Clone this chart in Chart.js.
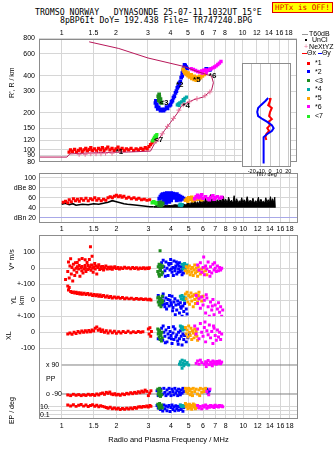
<!DOCTYPE html>
<html>
<head>
<meta charset="utf-8">
<script src="https://cdn.jsdelivr.net/npm/chart.js@4.4.1/dist/chart.umd.min.js"></script>
<style>
  body { margin: 0; width: 335px; height: 451px; position: relative; overflow: hidden; background: #fff; }
  canvas { position: absolute; }
  .txt { position: absolute; white-space: pre; line-height: 1; color: #000; }
  .mono { font-family: 'DejaVu Sans Mono', monospace; font-size: 8.2px; }
  .lr { position: absolute; left: 302px; height: 8px; line-height: 8px; font: 7px 'Liberation Sans', sans-serif; white-space: pre; }
  .ln { display: inline-block; width: 6px; height: 1px; vertical-align: middle; }
  .sq { display: inline-block; width: 3px; height: 3px; margin: 0 5px 0 5px; vertical-align: middle; }
  #hptx { position: absolute; left: 272px; top: 2px; width: 59px; height: 9px; background: #ffff00; border: 1px solid #e00000;
          color: #e00000; font: 7.6px 'DejaVu Sans Mono', monospace; line-height: 9px; text-align: center; }
  #xlm100 { position: absolute; left: 11px; top: 344.3px; width: 24px; height: 8px; line-height: 8px; text-align: right;
            font: 7px 'Liberation Sans', sans-serif; color: #000; }
</style>
</head>
<body>
<div class="txt mono" style="left:35px;top:7.5px">TROMSO NORWAY   DYNASONDE 25-07-11 1032UT 15°E</div>
<div class="txt mono" style="left:60px;top:16px">8pBP6It DoY= 192.438 File= TR747240.BPG</div>
<div id="hptx">HPTx is OFF!</div>

<canvas id="main" width="302" height="170" style="left:0;top:0"></canvas>
<canvas id="dbe" width="302" height="72" style="left:0;top:165px"></canvas>
<canvas id="low" width="302" height="221" style="left:0;top:230px"></canvas>
<canvas id="tilt" width="68" height="118" style="left:228px;top:60px"></canvas>
<div id="xlm100">-100</div>

<div class="lr" style="top:30px"><i class="ln" style="background:#999;margin-right:1px"></i>T60dB</div>
<div class="lr" style="top:36px"><i class="ln" style="width:2px;height:2px;background:#000;margin:0 5px 0 3px"></i>UnCl</div>
<div class="lr" style="top:42.7px"><span style="color:#e8749a;margin:0 1px 0 2px">+</span>NeXtYZ</div>
<div class="lr" style="top:49.3px"><i class="ln" style="background:#ff0000;width:5px"></i>Θx <i class="ln" style="background:#0000ff;width:4px"></i>Θy</div>
<div class="lr" style="top:59.3px"><i class="sq" style="background:#ff0000"></i>*1</div>
<div class="lr" style="top:67.7px"><i class="sq" style="background:#0000ff"></i>*2</div>
<div class="lr" style="top:76.7px"><i class="sq" style="background:#1e8c1e"></i>&lt;3</div>
<div class="lr" style="top:85.3px"><i class="sq" style="background:#00a8a8"></i>*4</div>
<div class="lr" style="top:94.3px"><i class="sq" style="background:#ffa500"></i>*5</div>
<div class="lr" style="top:102.7px"><i class="sq" style="background:#ff00ff"></i>*6</div>
<div class="lr" style="top:112px"><i class="sq" style="background:#22ee22"></i>&lt;7</div>

<script>
// axes
const freqTicks = [1, 1.5, 2, 3, 4, 5, 6, 7, 8, 9, 10, 12, 14, 16, 18];
const heightTicks = [800, 600, 400, 300, 200, 150, 120, 100, 90, 80];
const dbTicks = [100, 80, 60, 40, 20];
const tiltTicks = [-20, -10, 0, 10, 20];

// ionogram: [MHz, km]
const profile = [[0.75,87.4],[1.07,87.4],[1.11,92.7],[1.6,95],[2.34,96],[3.1,97.7],[3.24,110],[3.48,125],[3.71,144],[3.99,166],[4.36,198],[4.58,225],[4.82,237],[5.38,255],[6.1,269],[6.74,304],[6.9,350],[6.74,397],[5.59,433],[4.76,474],[3.0,556],[2.07,664],[1.42,752]];
const nextYZ = [[1.25,92],[1.35,92],[1.45,93],[1.55,93],[1.65,93],[1.75,94],[1.9,94],[3.35,118],[3.6,135],[3.85,155],[4.15,180],[4.45,210],[4.7,232],[5.1,246],[5.6,260],[6.2,275],[6.6,295]];
const hRed = [[1.1,96],[1.12,100],[1.15,97],[1.18,101],[1.21,96],[1.24,99],[1.27,102],[1.3,97],[1.33,100],[1.36,103],[1.39,98],[1.42,101],[1.45,104],[1.48,99],[1.52,102],[1.56,98],[1.6,103],[1.64,100],[1.68,104],[1.72,99],[1.76,102],[1.8,105],[1.85,100],[1.9,103],[1.95,99],[2.0,102],[2.05,105],[2.1,100],[2.16,103],[2.22,99],[2.28,102],[2.35,100],[2.42,103],[2.5,99],[2.58,102],[2.66,100],[2.74,103],[2.82,101],[2.9,104],[2.97,102],[3.04,106],[3.1,110],[3.16,114],[3.22,118],[3.28,122],[3.34,126]];
const hBlue = [[3.32,250],[3.30,240],[3.36,233],[3.34,225],[3.44,221],[3.40,215],[3.57,213],[3.52,208],[3.71,213],[3.66,208],[3.85,217],[3.80,222],[4.0,233],[3.95,228],[4.1,250],[4.05,245],[4.2,273],[4.15,265],[4.31,299],[4.26,290],[4.41,327],[4.36,318],[4.53,357],[4.47,348],[4.64,397],[4.58,385],[4.70,434],[4.65,420],[4.76,466],[4.72,450],[4.82,483],[4.78,490],[4.94,457],[4.88,470],[4.88,418],[6.3,455],[6.5,450],[6.6,445]];
const hGreen = [[3.42,272],[3.45,262],[3.48,255],[3.5,248],[3.44,252],[3.53,243],[3.56,240],[3.47,268],[3.52,258],[3.46,282]];
const hTeal = [[4.36,232],[4.42,236],[4.5,240],[4.46,230],[4.6,245],[4.7,255],[4.8,262],[4.9,268],[4.75,250]];
const hOrange = [[4.7,450],[4.75,435],[4.8,420],[4.9,410],[5.0,400],[5.1,390],[5.25,380],[5.4,372],[5.55,368],[5.7,375],[5.85,385],[6.0,398],[6.15,410],[5.0,420],[5.2,405],[5.4,395],[5.6,388],[5.8,395],[4.85,430]];
const hMagenta = [[5.2,455],[5.35,448],[5.5,440],[5.65,432],[5.8,428],[5.95,436],[6.1,442],[6.25,445],[6.4,440],[6.55,447],[6.7,455],[6.85,462],[7.0,470],[7.15,480],[7.3,492],[7.45,505],[7.6,520],[6.0,420],[6.3,425]];
const hLime = [[3.18,118],[3.22,122],[3.26,126],[3.3,130],[3.34,127],[3.28,120],[3.36,133]];
const tagText = ['*1', '*2', '<3', '*4', '*5', '*6', '<7'];
const tagFreq = [2.09, 4.5, 3.68, 4.88, 5.59, 6.83, 3.44];
const tagHeight = [97, 334, 243, 229, 368, 402, 121];

// tilt inset: [deg, km]
const tiltRed = [[1,278],[0,264],[-2,245],[2,233],[0,217],[-1,202],[2,191],[-2,182],[0,172],[-3,163],[-1,155],[-4,147],[-5,139],[-4,132]];
const tiltBlue = [[-2,278],[-5,264],[-10,245],[-13,233],[-14,217],[-13,202],[-8,191],[-3,182],[2,172],[4,163],[2,155],[-3,147],[-7,139],[-7,121],[-7,101],[-7,87]];

// amplitude: [MHz, dB]
const dbRed = [[1.02,51],[1.05,53],[1.08,50],[1.1,56],[1.13,52],[1.16,58],[1.19,54],[1.22,57],[1.25,53],[1.28,58],[1.32,55],[1.36,59],[1.4,54],[1.44,58],[1.48,56],[1.52,60],[1.56,55],[1.6,58],[1.65,54],[1.7,57],[1.75,55],[1.8,60],[1.85,62],[1.9,60],[1.95,63],[2.0,65],[2.05,62],[2.1,64],[2.15,61],[2.2,63],[2.27,59],[2.34,61],[2.42,58],[2.5,60],[2.58,57],[2.66,59],[2.75,56],[2.85,57],[2.95,55],[3.05,56]];
const dbNoiseLow = [[1.0,47],[1.05,49],[1.1,46],[1.15,48],[1.2,45],[1.3,47],[1.4,46],[1.5,48],[1.6,47],[1.7,49],[1.8,51],[1.9,54],[2.0,52],[2.1,50],[2.2,48],[2.3,47],[2.45,46],[2.6,45],[2.75,44],[2.9,43],[3.05,42],[3.2,42]];
const dbNoiseHigh = [[3.2,42],[3.4,44],[3.6,43],[3.8,45],[4.0,44],[4.2,46],[4.4,45],[4.6,48],[4.8,46],[5.0,50],[5.1,46],[5.2,53],[5.3,47],[5.4,55],[5.5,48],[5.6,52],[5.7,47],[5.8,58],[5.9,48],[6.0,54],[6.1,49],[6.2,60],[6.3,48],[6.4,55],[6.5,50],[6.6,66],[6.7,49],[6.8,58],[6.9,50],[7.0,62],[7.1,49],[7.2,56],[7.35,51],[7.5,60],[7.6,49],[7.75,63],[7.9,50],[8.0,57],[8.15,49],[8.3,61],[8.45,51],[8.6,55],[8.75,49],[8.9,64],[9.05,50],[9.2,58],[9.35,49],[9.5,54],[9.65,51],[9.8,60],[9.95,49],[10.1,56],[10.3,50],[10.5,62],[10.7,49],[10.9,55],[11.1,51],[11.3,59],[11.5,49],[11.7,54],[11.9,50],[12.1,61],[12.3,49],[12.5,57],[12.7,51],[12.9,53],[13.1,49],[13.3,60],[13.5,50],[13.7,56],[13.9,49],[14.1,62],[14.3,51],[14.5,58],[14.7,50],[14.9,61],[15.0,40]];
const dbLime = [[3.15,50],[3.2,52],[3.25,51],[3.3,49]];
const dbGreen = [[3.35,47],[3.4,50],[3.45,48],[3.5,51],[3.55,46],[3.6,49],[3.42,45],[3.52,44]];
const dbBlue = [[3.45,58],[3.5,62],[3.55,65],[3.6,67],[3.7,68],[3.8,69],[3.9,68],[4.0,69],[4.1,68],[4.2,66],[4.3,67],[4.4,64],[4.5,62],[4.6,60],[4.7,58],[3.6,60],[3.75,62],[3.9,63],[4.05,62],[4.2,60],[4.35,58],[3.7,56],[4.0,57],[4.3,55],[3.85,59],[4.15,64],[4.5,56],[3.5,48],[3.6,50],[3.65,53],[3.75,50],[3.8,54],[3.9,52],[4.0,55]];
const dbTeal = [[4.45,45],[4.5,47],[4.55,44],[4.6,46]];
const dbOrange = [[4.8,55],[4.9,58],[5.0,60],[5.1,57],[5.2,61],[5.3,58],[5.4,56],[5.5,60],[5.6,57],[5.75,59],[5.9,56],[4.95,53],[5.25,54]];
const dbMagenta = [[5.4,58],[5.5,62],[5.6,65],[5.7,60],[5.8,63],[6.0,59],[6.2,62],[6.4,58],[6.6,61],[6.8,64],[7.0,60],[7.2,62],[7.4,59],[7.6,61],[6.5,56],[6.9,57],[5.9,66]];

// V* m/s
const vRed = [[1.05,-70],[1.08,-20],[1.09,40],[1.1,-60],[1.11,15],[1.12,60],[1.13,-35],[1.14,5],[1.15,-80],[1.16,25],[1.17,-10],[1.18,-45],[1.19,35],[1.2,0],[1.21,-25],[1.22,10],[1.24,-5],[1.26,-50],[1.28,5],[1.29,-15],[1.31,-30],[1.33,-5],[1.35,0],[1.36,-20],[1.39,-8],[1.4,18],[1.41,-3],[1.42,55],[1.43,8],[1.44,135],[1.45,-12],[1.46,20],[1.47,75],[1.48,2],[1.49,-25],[1.5,10],[1.52,30],[1.53,-5],[1.55,15],[1.56,-35],[1.58,5],[1.6,22],[1.62,-8],[1.64,10],[1.66,-2],[1.68,12],[1.7,-10],[1.72,4],[1.75,15],[1.78,-5],[1.81,6],[1.84,-3],[1.87,8],[1.9,-6],[1.93,3],[1.96,9],[2.0,-2],[2.04,5],[2.08,-4],[2.12,3],[2.17,-2],[2.22,6],[2.28,0],[2.34,4],[2.4,-3],[2.46,5],[2.52,-1],[2.58,3],[2.64,-4],[2.7,2],[2.76,-2],[2.82,4],[2.88,-3],[2.94,2],[3.0,-2],[3.04,3],[1.296,61],[1.346,54],[1.379,36],[1.346,18],[1.296,11],[1.248,18],[1.218,36],[1.248,54]];
const vGreen = [[3.38,-20],[3.4,10],[3.42,-35],[3.44,25],[3.45,-50],[3.47,0],[3.48,110],[3.5,-15],[3.52,20],[3.54,-40],[3.56,5],[3.58,-25],[3.6,15]];
const vBlue = [[3.45,20],[3.5,-5],[3.55,35],[3.6,-30],[3.65,10],[3.7,-15],[3.75,40],[3.8,0],[3.85,-45],[3.9,20],[3.95,-10],[4.0,30],[4.05,-25],[4.1,5],[4.15,45],[4.2,-15],[4.25,15],[4.3,-35],[4.35,25],[4.4,-5],[4.45,35],[4.5,-20],[4.55,10],[4.6,-40],[4.65,0],[4.7,20],[3.62,50],[3.72,-50],[3.88,30],[4.02,-5],[4.12,-45],[4.28,40],[4.42,15],[4.58,-10],[3.58,10],[3.98,55],[4.22,0],[4.38,-25],[4.68,-30],[4.75,10]];
const vTeal = [[4.6,25],[4.65,-5],[4.7,15],[4.75,30],[4.8,-10],[4.85,5],[4.9,20],[4.95,-20]];
const vOrange = [[4.8,-15],[4.85,10],[4.9,-30],[4.95,0],[5.0,-20],[5.05,15],[5.1,-40],[5.15,-5],[5.2,-25],[5.25,5],[5.3,-45],[5.35,-10],[5.4,20],[5.45,-30],[5.5,0],[5.55,-20],[5.6,-50],[5.65,10],[5.7,-15],[5.8,-35],[5.9,-5],[6.0,-25],[6.1,5],[6.2,-15],[6.3,-40]];
const vMagenta = [[5.6,20],[5.7,-10],[5.8,35],[5.9,-25],[6.0,5],[6.1,-40],[6.2,15],[6.3,-5],[6.4,40],[6.5,-20],[6.6,10],[6.7,-30],[6.8,25],[6.9,-10],[7.0,0],[7.1,-20],[7.2,15],[7.3,-15],[7.4,5],[7.5,-10],[7.6,0],[6.05,70],[6.55,-50],[6.95,35]];

// YL km
const ylRed = [[1.08,90],[1.09,65],[1.1,80],[1.12,55],[1.14,48],[1.16,52],[1.18,45],[1.2,50],[1.22,42],[1.24,47],[1.26,40],[1.28,46],[1.3,38],[1.33,44],[1.36,36],[1.39,42],[1.42,34],[1.45,40],[1.48,30],[1.51,37],[1.54,28],[1.57,35],[1.6,25],[1.63,33],[1.66,24],[1.7,30],[1.74,20],[1.78,27],[1.82,18],[1.86,24],[1.9,15],[1.95,21],[2.0,14],[2.05,19],[2.1,12],[2.16,17],[2.22,10],[2.28,15],[2.35,9],[2.42,13],[2.5,7],[2.58,11],[2.66,6],[2.74,10],[2.82,5],[2.9,8],[2.98,4],[3.05,7],[3.1,2]];
const ylGreen = [[3.38,15],[3.4,-10],[3.42,20],[3.44,-30],[3.46,5],[3.48,-20],[3.5,10],[3.52,-40],[3.54,0],[3.56,-15],[3.58,25],[3.6,-5]];
const ylBlue = [[3.4,30],[3.45,-10],[3.5,10],[3.55,-30],[3.6,20],[3.65,-5],[3.7,-40],[3.75,15],[3.8,-20],[3.85,5],[3.9,-35],[3.95,0],[4.0,-15],[4.05,25],[4.1,-45],[4.15,-10],[4.2,10],[4.25,-30],[4.3,-60],[4.35,-5],[4.4,-25],[4.45,-80],[4.5,-15],[4.55,-50],[4.6,-100],[4.65,-35],[4.7,-70],[4.75,-20],[4.8,-110],[4.85,-55],[4.9,-85],[3.62,40],[3.78,-55],[3.92,30],[4.08,-65],[4.22,-90],[4.38,-120],[4.52,-40],[4.02,-30],[3.68,-25]];
const ylTeal = [[4.5,25],[4.55,10],[4.6,30],[4.65,5],[4.7,20],[4.75,0],[4.8,15]];
const ylOrange = [[4.8,40],[4.85,10],[4.9,50],[4.95,-10],[5.0,30],[5.05,-25],[5.1,20],[5.15,45],[5.2,-5],[5.25,25],[5.3,-40],[5.35,35],[5.4,5],[5.45,-20],[5.5,40],[5.55,15],[5.6,-10],[5.65,30],[5.7,50],[5.8,20],[5.9,-5],[6.0,25]];
const ylMagenta = [[5.5,30],[5.6,-20],[5.7,10],[5.8,-50],[5.9,20],[6.0,-30],[6.1,0],[6.2,-80],[6.3,15],[6.4,-40],[6.5,-100],[6.6,-10],[6.7,-60],[6.8,5],[6.9,-90],[7.0,-30],[7.1,-120],[7.2,-55],[7.3,-15],[7.4,-75],[7.5,-40],[7.6,-100],[7.7,-60],[6.25,35],[6.75,-35]];

// XL km
const xlRed = [[1.08,-10],[1.11,-5],[1.14,-12],[1.17,0],[1.2,-8],[1.23,5],[1.26,-3],[1.29,8],[1.32,0],[1.35,10],[1.38,2],[1.41,12],[1.44,4],[1.47,15],[1.5,8],[1.53,25],[1.56,33],[1.59,12],[1.62,20],[1.65,5],[1.68,15],[1.72,0],[1.76,10],[1.8,-5],[1.85,8],[1.9,-3],[1.95,6],[2.0,-6],[2.06,4],[2.12,-4],[2.18,5],[2.25,-2],[2.32,6],[2.4,-3],[2.48,4],[2.56,-2],[2.64,5],[2.72,0],[2.8,3],[3.0,20],[3.03,-10],[3.06,28],[3.09,-25],[3.12,5]];
const xlGreen = [[3.38,20],[3.4,-10],[3.42,5],[3.44,-30],[3.46,15],[3.48,-45],[3.5,-5],[3.52,-20],[3.54,-55],[3.56,0],[3.58,-35]];
const xlBlue = [[3.4,-40],[3.45,10],[3.5,-20],[3.55,25],[3.6,-50],[3.65,0],[3.7,-25],[3.75,15],[3.8,-60],[3.85,-10],[3.9,-35],[3.95,5],[4.0,-20],[4.05,-70],[4.1,-5],[4.15,-45],[4.2,20],[4.25,-30],[4.3,-15],[4.35,-55],[4.4,0],[4.45,-40],[4.5,10],[4.55,-25],[4.6,-80],[4.65,-10],[4.7,-45],[4.75,-20],[4.85,-60],[4.95,-35],[5.05,-15],[3.62,40],[3.88,30],[4.12,35],[4.38,-75],[3.72,-65],[4.02,-40]];
const xlTeal = [[4.5,40],[4.55,25],[4.6,35],[4.65,15],[4.7,30],[4.75,20]];
const xlOrange = [[4.8,30],[4.85,-10],[4.9,15],[4.95,-30],[5.0,40],[5.05,0],[5.1,-20],[5.15,25],[5.2,-45],[5.25,10],[5.3,-5],[5.35,-35],[5.4,20],[5.45,-15],[5.5,5],[5.55,-25],[5.6,-50]];
const xlMagenta = [[5.4,40],[5.5,-10],[5.6,20],[5.7,-40],[5.8,55],[5.9,0],[6.0,-25],[6.1,30],[6.2,-60],[6.3,10],[6.4,-15],[6.5,45],[6.6,-35],[6.7,5],[6.8,-70],[6.9,25],[7.0,-20],[7.1,-50],[7.2,15],[7.3,-30],[7.4,0],[7.5,-45],[7.6,-10],[6.15,64],[6.85,40]];

// polarization deg (x mode +90, o mode -90)
const polRed = [[1.08,-96],[1.12,-100],[1.16,-92],[1.2,-98],[1.24,-94],[1.28,-100],[1.32,-95],[1.36,-99],[1.4,-92],[1.44,-97],[1.48,-93],[1.52,-99],[1.56,-90],[1.6,-96],[1.64,-88],[1.68,-84],[1.72,-92],[1.76,-80],[1.8,-86],[1.84,-78],[1.88,-90],[1.92,-94],[1.96,-88],[2.0,-96],[2.05,-92],[2.1,-98],[2.16,-90],[2.22,-94],[2.28,-86],[2.34,-90],[2.4,-82],[2.46,-88],[2.52,-80],[2.58,-85],[2.64,-76],[2.7,-82],[2.76,-72],[2.82,-78],[2.88,-66],[2.94,-74],[3.0,-100],[3.05,-84],[3.1,-70]];
const polGreen = [[3.38,-60],[3.4,-90],[3.42,-75],[3.44,-100],[3.46,-55],[3.48,-85],[3.5,-105],[3.52,-70],[3.55,-95]];
const polBlue = [[3.35,-70],[3.4,-100],[3.5,-60],[3.6,-90],[3.65,-55],[3.7,-80],[3.75,-100],[3.8,-65],[3.85,-90],[3.9,-55],[3.95,-80],[4.0,-100],[4.05,-60],[4.1,-75],[4.15,-95],[4.2,-55],[4.25,-85],[4.3,-70],[4.35,-100],[4.4,-60],[4.45,-80],[4.5,-95],[4.55,-65],[4.6,-85],[4.65,-55],[4.7,-75],[6.3,-60],[6.4,-85],[6.5,-70]];
const polTeal = [[4.45,95],[4.5,110],[4.55,90],[4.6,120],[4.65,100],[4.7,85],[4.75,115],[4.8,95],[4.9,105],[5.0,90],[4.6,70]];
const polOrange = [[4.8,-55],[4.85,-75],[4.9,-60],[4.95,-85],[5.0,-55],[5.05,-70],[5.1,-95],[5.15,-60],[5.2,-80],[5.3,-55],[5.4,-75],[5.5,-60],[5.6,-90],[5.7,-65],[5.8,-55],[5.9,-80],[6.0,-60],[6.1,-75],[6.2,-55],[5.25,-100],[5.75,-100]];
const polMagenta = [[5.5,100],[5.6,115],[5.7,95],[5.8,120],[5.9,105],[6.0,163],[6.1,95],[6.2,110],[6.3,100],[6.4,118],[6.5,92],[6.6,108],[6.7,98],[6.8,115],[6.9,100],[7.0,110],[7.1,95],[7.2,112],[7.3,100],[7.4,115],[7.5,98],[7.6,108],[6.25,80],[6.75,85],[6.3,-75],[6.45,-95],[6.55,-60]];

// EP deg
const epRed = [[1.08,25],[1.12,15],[1.16,30],[1.2,12],[1.24,22],[1.28,35],[1.32,14],[1.36,25],[1.4,11],[1.44,20],[1.48,30],[1.52,13],[1.56,24],[1.6,10],[1.64,18],[1.68,12],[1.72,9],[1.76,6],[1.8,4],[1.85,7],[1.9,3],[1.95,5],[2.0,2.5],[2.05,4],[2.1,2],[2.16,3.5],[2.22,2.2],[2.28,4],[2.34,2.8],[2.4,5],[2.46,3],[2.52,6],[2.58,4],[2.64,8],[2.7,10],[2.76,7],[2.82,12],[2.88,9],[2.94,15],[3.0,8],[3.06,20],[3.1,12]];
const epGreen = [[3.38,40],[3.42,15],[3.46,60],[3.5,8],[3.54,25],[3.58,5],[3.44,4]];
const epBlue = [[3.35,20],[3.4,5],[3.45,30],[3.5,2],[3.55,12],[3.6,0.8],[3.65,25],[3.7,3],[3.75,15],[3.8,1],[3.85,8],[3.9,20],[3.95,0.6],[4.0,6],[4.05,25],[4.1,2],[4.15,10],[4.2,0.9],[4.25,18],[4.3,3],[4.35,12],[4.4,1.2],[4.45,8],[4.5,22],[4.55,2],[4.6,15],[4.65,0.7],[4.7,6],[4.75,12]];
const epTeal = [[4.5,25],[4.55,12],[4.6,20],[4.65,10],[4.7,18],[4.75,14]];
const epOrange = [[4.8,60],[4.85,10],[4.9,30],[4.95,3],[5.0,15],[5.05,40],[5.1,5],[5.15,20],[5.2,2.2],[5.25,12],[5.3,50],[5.35,8],[5.4,25],[5.45,3],[5.5,15],[5.55,6]];
const epMagenta = [[5.6,20],[5.7,5],[5.8,12],[5.9,3],[6.0,18],[6.1,8],[6.2,25],[6.3,4],[6.4,14],[6.5,7],[6.6,20],[6.7,10],[6.8,16],[6.9,6],[7.0,22],[7.1,11],[7.2,15],[7.3,8],[7.4,20],[7.5,12],[7.6,17],[7.7,10]];

const RED = '#ff0000', BLUE = '#0000ff', GREEN = '#1e8c1e', TEAL = '#00a8a8',
      ORANGE = '#ffa500', MAGENTA = '#ff00ff', LIME = '#22ee22';
const GRID = '#d6d6d6';
const FONT = "'Liberation Sans', Arial, sans-serif";

Chart.defaults.font.family = FONT;
Chart.defaults.font.size = 7;
Chart.defaults.color = '#000';
Chart.defaults.animation = false;
Chart.defaults.responsive = false;
Chart.defaults.devicePixelRatio = 1;
Chart.defaults.plugins.legend.display = false;
Chart.defaults.plugins.tooltip.enabled = false;

const pts = a => a.map(p => ({ x: p[0], y: p[1] }));

function dots(data, color, r, axis) {
  return { data: pts(data), yAxisID: axis || 'y', pointStyle: 'rect', pointRadius: r,
           pointBackgroundColor: color, pointBorderWidth: 0, showLine: false };
}
function trace(data, color, w, axis) {
  return { data: pts(data), yAxisID: axis || 'y', showLine: true, borderColor: color,
           borderWidth: w, pointRadius: 0, fill: false };
}
// list is bottom-to-top; Chart.js draws lowest order on top
function layer(list) {
  return list.map((d, i) => Object.assign(d, { order: list.length - i }));
}
function fixed(values) {
  return s => { s.ticks = values.map(v => ({ value: v })); };
}

function freqAxis(position, show9, height, pad) {
  return {
    type: 'logarithmic', position: position, min: 0.75, max: 20,
    afterBuildTicks: fixed(freqTicks),
    afterFit: s => { s.height = height; },
    ticks: { autoSkip: false, maxRotation: 0, padding: pad,
             callback: v => (v === 9 && !show9) ? '' : String(v) },
    grid: { color: GRID, drawTicks: false },
    border: { display: false }
  };
}

const framePlugin = {
  id: 'frame',
  afterDraw(chart) {
    const a = chart.chartArea, c = chart.ctx;
    c.save();
    c.strokeStyle = '#8c8c8c';
    c.lineWidth = 1;
    const l = Math.round(a.left) + 0.5, t = Math.round(a.top) + 0.5;
    c.strokeRect(l, t, Math.round(a.right) - 1 - l + 0.5, Math.round(a.bottom) - 1 - t + 0.5);
    c.restore();
  }
};

const tagPlugin = {
  id: 'tags',
  afterDatasetsDraw(chart) {
    const c = chart.ctx, x = chart.scales.x, y = chart.scales.y;
    c.save();
    c.font = 'bold 8px ' + FONT;
    c.fillStyle = '#000';
    c.textAlign = 'center';
    c.textBaseline = 'middle';
    tagText.forEach((t, i) => c.fillText(t, x.getPixelForValue(tagFreq[i]), y.getPixelForValue(tagHeight[i])));
    c.restore();
  }
};

const whitePlugin = {
  id: 'white',
  beforeDraw(chart) {
    const a = chart.chartArea, c = chart.ctx;
    c.save();
    c.fillStyle = '#fff';
    c.fillRect(a.left, a.top, a.right - a.left, a.bottom - a.top);
    c.restore();
  }
};

// main ionogram
new Chart(document.getElementById('main'), {
  type: 'scatter',
  data: { datasets: layer([
    dots(hRed, RED, 2.3), dots(hBlue, BLUE, 2.6), dots(hGreen, GREEN, 2.6), dots(hTeal, TEAL, 2.3),
    dots(hOrange, ORANGE, 2.6), dots(hMagenta, MAGENTA, 2.4), dots(hLime, LIME, 2.3),
    trace(profile, '#b8185a', 1),
    { data: pts(nextYZ), pointStyle: 'cross', pointRadius: 2.5, pointBorderColor: '#e8749a', pointBorderWidth: 1, showLine: false }
  ]) },
  options: {
    layout: { padding: { left: 0, right: 1, top: 0, bottom: 2 } },
    scales: {
      x: freqAxis('top', false, 38.5, 1.5),
      y: {
        type: 'logarithmic', min: 80, max: 800,
        afterBuildTicks: fixed(heightTicks),
        afterFit: s => { s.width = 39; },
        ticks: { padding: 4, autoSkip: false, callback: v => String(v) },
        // leading spaces lift the label toward the upper part of the axis, as in the original
        title: { display: true, text: '\u00a0'.repeat(18) + "R', R / km", padding: { top: 8, bottom: 0 } },
        grid: { color: GRID, drawTicks: false },
        border: { display: false }
      }
    }
  },
  plugins: [framePlugin, tagPlugin]
});

// amplitude panel
new Chart(document.getElementById('dbe'), {
  type: 'scatter',
  data: { datasets: layer([
    trace(dbNoiseLow, '#000', 1.6),
    Object.assign(trace(dbNoiseHigh, '#000', 1), { fill: { value: 40 }, backgroundColor: '#000' }),
    dots(dbRed, RED, 2.2), dots(dbBlue, BLUE, 2.8), dots(dbGreen, GREEN, 2.5), dots(dbTeal, TEAL, 2.3),
    dots(dbOrange, ORANGE, 2.5), dots(dbMagenta, MAGENTA, 2.5), dots(dbLime, LIME, 2.4)
  ]) },
  options: {
    layout: { padding: { left: 0, right: 1, top: 7.7, bottom: 0 } },
    scales: {
      x: freqAxis('bottom', true, 14.3, 2.5),
      y: {
        type: 'linear', min: 10, max: 110,
        afterBuildTicks: fixed(dbTicks),
        afterFit: s => { s.width = 39; },
        ticks: { padding: 3, autoSkip: false, callback: v => v === 80 ? 'dBe 80' : v === 20 ? 'dBn 20' : String(v) },
        grid: { color: c => (c.tick && c.tick.value === 20) ? '#a8a8e8' : GRID, drawTicks: false },
        border: { display: false }
      }
    }
  },
  plugins: [framePlugin]
});

// lower panel: stacked axes sharing the frequency scale
function band(weight, stackWeight, min, max, vals, label, title, pad) {
  return {
    type: 'linear', position: 'left', stack: 'low', stackWeight: stackWeight, weight: weight,
    min: min, max: max,
    afterBuildTicks: fixed(vals),
    // fixed width, and no extra room reserved for labels at the stack ends
    afterFit: s => { s.width = 39; s.paddingTop = 0; s.paddingBottom = 0; },
    ticks: { padding: 4, autoSkip: false, callback: label },
    title: title ? { display: true, text: title, padding: { top: pad, bottom: 0 } } : { display: false },
    grid: { color: GRID, drawTicks: false },
    border: { display: false }
  };
}

const lowX = freqAxis('bottom', false, 31.7, 2.5);
lowX.title = { display: true, text: 'Radio and Plasma Frequency / MHz', font: { size: 7.5 }, padding: { top: 0, bottom: 6.8 } };

const polAxis = band(2, 47, -139.7, 152, [90, 0, -90], v => v === 90 ? 'x 90' : v === 0 ? 'PP' : 'o -90', null, 0);
polAxis.ticks.mirror = true;
polAxis.ticks.padding = 7;
polAxis.grid = { display: false };

const epAxis = band(1, 17.3, 0.00708, 149.6, [10, 1, 0.1], v => v === 10 ? '10.' : v === 0.1 ? '0.1' : '', 'EP / deg', 8);
epAxis.type = 'logarithmic';
epAxis.ticks.mirror = true;
epAxis.ticks.padding = 1;

const bands = [
  ['v', vRed, vBlue, vGreen, vTeal, vOrange, vMagenta],
  ['yl', ylRed, ylBlue, ylGreen, ylTeal, ylOrange, ylMagenta],
  ['xl', xlRed, xlBlue, xlGreen, xlTeal, xlOrange, xlMagenta],
  ['pol', polRed, polBlue, polGreen, polTeal, polOrange, polMagenta],
  ['ep', epRed, epBlue, epGreen, epTeal, epOrange, epMagenta]
];
const lowSets = [
  trace([[1, 90], [20, 90]], '#808080', 1, 'pol'),
  trace([[1, -90], [20, -90]], '#808080', 1, 'pol')
];
const bandColors = [RED, BLUE, GREEN, TEAL, ORANGE, MAGENTA];
bandColors.forEach((col, k) => {
  bands.forEach(b => lowSets.push(dots(b[k + 1], col, 2.1, b[0])));
});

// the XL "-100" label is the small HTML div #xlm100; the tick keeps its grid line
new Chart(document.getElementById('low'), {
  type: 'scatter',
  data: { datasets: layer(lowSets) },
  options: {
    layout: { padding: { left: 0, right: 0, top: 5, bottom: 0 } },
    scales: {
      x: lowX,
      v: band(5, 49.3, -100, 208, [100, 0, -100], v => v === -100 ? '+-100' : String(v), 'V* m/s', 8),
      yl: band(4, 32, -100, 100, [0, -100], v => v === -100 ? '+-100' : String(v), ['YL', 'km'], 9.5),
      xl: band(3, 38.7, -142, 100, [0, -100], v => v === -100 ? '' : String(v), 'XL', 5),
      pol: polAxis,
      ep: epAxis
    }
  },
  plugins: [framePlugin]
});

// tilt inset
new Chart(document.getElementById('tilt'), {
  type: 'scatter',
  data: { datasets: layer([trace(tiltRed, RED, 2), trace(tiltBlue, BLUE, 2)]) },
  options: {
    layout: { padding: { left: 13.7, right: 5, top: 3, bottom: 0 } },
    scales: {
      x: {
        type: 'linear', min: -31, max: 23,
        afterBuildTicks: fixed(tiltTicks),
        afterFit: s => { s.height = 11; },
        ticks: { autoSkip: false, maxRotation: 0, padding: 1, font: { size: 5.5 } },
        title: { display: true, text: 'Tilt / deg', font: { size: 5.5 }, padding: { top: 0, bottom: 0 } },
        grid: { color: '#c8c8c8', drawTicks: false },
        border: { display: false }
      },
      y: { type: 'logarithmic', min: 81.8, max: 517.6, display: false }
    }
  },
  plugins: [whitePlugin, framePlugin]
});
</script>
</body>
</html>
